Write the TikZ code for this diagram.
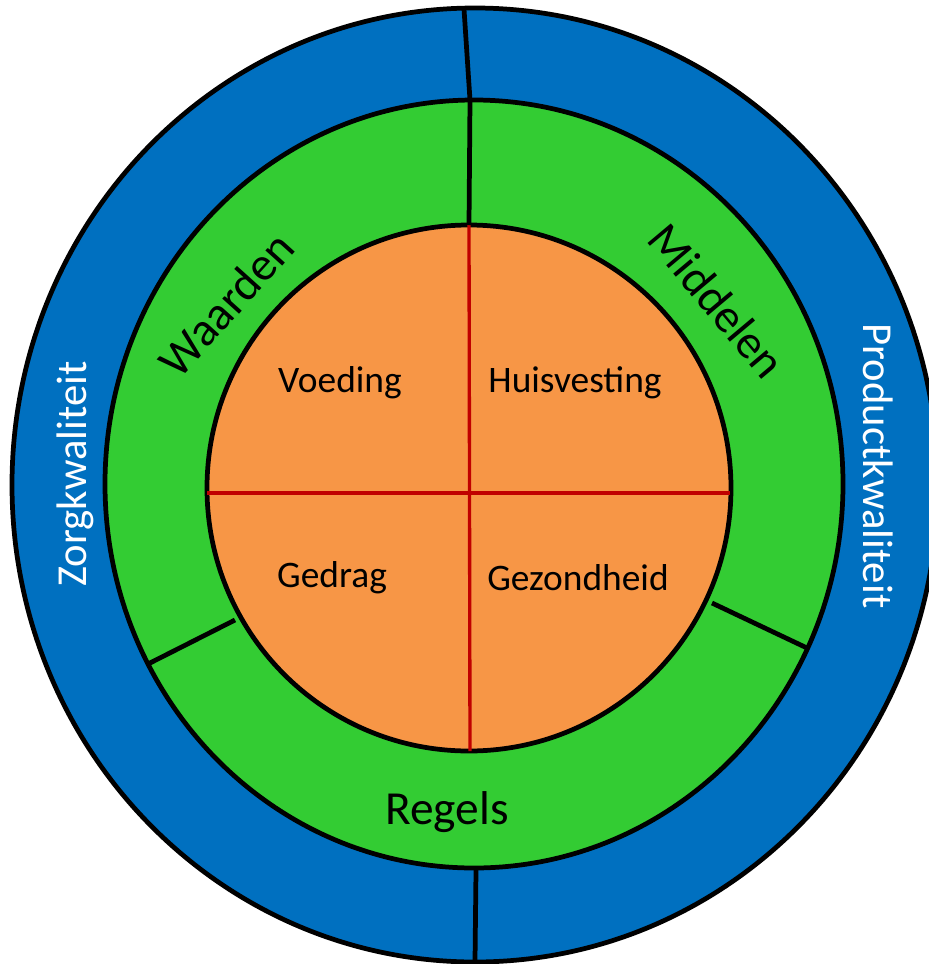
\documentclass[tikz,border=0pt]{standalone}
\usepackage{fontspec}
\setmainfont{Carlito}

\definecolor{ringblue}{HTML}{0070C0}
\definecolor{ringgreen}{HTML}{33CC33}
\definecolor{coreorange}{HTML}{F79646}
\definecolor{crossred}{HTML}{C00000}

\tikzset{
	ring/.style={draw=black, line width=2.7pt},
	divider/.style={draw=black, line width=2.7pt},
	cross/.style={draw=crossred, line width=1.9pt},
	outerlabel/.style={inner sep=0pt, text=white, font=\fontsize{24.3}{27}\selectfont},
	midlabel/.style={inner sep=0pt, font=\fontsize{27}{30}\selectfont},
	corelabel/.style={inner sep=0pt, font=\fontsize{21.3}{25}\selectfont}
}

\begin{document}
\begin{tikzpicture}[x=0.02cm, y=-0.02cm]
	\useasboundingbox (0, 0) rectangle (929, 964);

	% rings
	\fill [ring, fill=ringblue] (475, 485) ellipse [x radius=463, y radius=477];
	\fill [ring, fill=ringgreen] (474, 484) ellipse [x radius=369, y radius=384];
	\fill [ring, fill=coreorange] (469, 488) ellipse [x radius=262, y radius=263];

	% ends of the lines
	\coordinate (bt1) at (464, 9);
	\coordinate (bt2) at (470, 100);
	\coordinate (bb1) at (476, 870);
	\coordinate (bb2) at (475, 962);
	\coordinate (gt2) at (469, 225);
	\coordinate (gl1) at (148, 664);
	\coordinate (gl2) at (235, 620);
	\coordinate (gr1) at (712, 603);
	\coordinate (gr2) at (807, 648);
	\coordinate (cl) at (207, 493);
	\coordinate (cr) at (730, 493);
	\coordinate (cb) at (470, 751);

	\draw [cross] (cl) -- (cr);
	\draw [cross] (gt2) -- (cb);
	\draw [divider] (bt1) -- (bt2);
	\draw [divider] (bb1) -- (bb2);
	\draw [divider] (bt2) -- (gt2);
	\draw [divider] (gl1) -- (gl2);
	\draw [divider] (gr1) -- (gr2);

	% labels
	\node [outerlabel, rotate=90] at (75, 474) (zorg) {Zorgkwaliteit};
	\node [outerlabel, rotate=-90] at (878, 466) (product) {Productkwaliteit};
	\node [midlabel, rotate=48] at (226, 304) (waarden) {Waarden};
	\node [midlabel, rotate=-50] at (717, 301) (middelen) {Middelen};
	\node [midlabel] at (447, 812) (regels) {Regels};
	\node [corelabel] at (340, 383) (voeding) {Voeding};
	\node [corelabel] at (575, 383) (huis) {Huisvesting};
	\node [corelabel] at (332, 578) (gedrag) {Gedrag};
	\node [corelabel] at (578, 578) (gezond) {Gezondheid};
\end{tikzpicture}
\end{document}
